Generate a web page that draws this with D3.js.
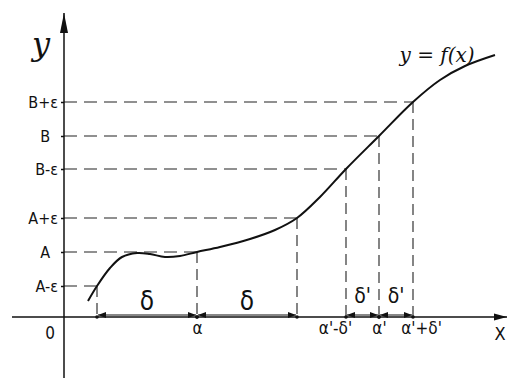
<!DOCTYPE html>
<html>
<head>
<meta charset="UTF-8">
<script src="https://d3js.org/d3.v7.min.js"></script>
<style>
    body { margin: 0; background: #fff; }
    svg { display: block; }
    text { font-family: "DejaVu Sans Condensed", "Liberation Sans Narrow", sans-serif; fill: #111; }
</style>
</head>
<body>
<svg width="509" height="378"></svg>
<script>
// curve y = f(x)
const curveX = [24, 33, 46, 58, 73, 86, 101, 116, 133, 156, 186, 211, 233, 256, 282, 315, 349, 376, 401, 431];
const curveY = [16, 31, 49, 60, 64, 63, 60, 61, 65, 70, 78, 87, 99, 120, 148, 181, 215, 237, 251, 262];

// levels on the y axis and where the curve meets them
const levelValues = [31, 65, 99, 148, 181, 215];
const levelLabels = ["A-ε", "A", "A+ε", "B-ε", "B", "B+ε"];
const levelHitX = [33, 133, 233, 282, 315, 349];

// x axis labels
const xTickValues = [133, 282, 315, 349];
const xTickLabels = ["α", "α'-δ'", "α'", "α'+δ'"];

// delta intervals
const spanStart = [33, 133, 282, 315];
const spanEnd = [133, 233, 315, 349];
const spanLabels = ["δ", "δ", "δ'", "δ'"];

const svg = d3.select("svg");
const x = d3.scaleLinear().domain([0, 440]).range([64, 504]);
const y = d3.scaleLinear().domain([0, 300]).range([317, 17]);
const ink = "#111";

// arrow heads
svg.append("defs").append("marker")
    .attr("id", "head")
    .attr("viewBox", "0 0 8 6")
    .attr("refX", 8).attr("refY", 3)
    .attr("markerWidth", 8).attr("markerHeight", 6)
    .attr("markerUnits", "userSpaceOnUse")
    .attr("orient", "auto-start-reverse")
    .append("path").attr("d", "M0,0L8,3L0,6Z").attr("fill", ink);

// dashed guides: across to the curve, then down to the x axis
levelValues.forEach((v, i) => {
    svg.append("line")
        .attr("x1", x(0)).attr("x2", x(levelHitX[i]))
        .attr("y1", y(v)).attr("y2", y(v))
        .attr("stroke", "#222").attr("stroke-width", 1.1).attr("stroke-dasharray", "13,7");
    svg.append("line")
        .attr("x1", x(levelHitX[i])).attr("x2", x(levelHitX[i]))
        .attr("y1", y(v)).attr("y2", y(0))
        .attr("stroke", "#222").attr("stroke-width", 1.1).attr("stroke-dasharray", "11,6");
});

// axes lines with arrows
svg.append("line")
    .attr("x1", x(0)).attr("x2", x(0))
    .attr("y1", 378).attr("y2", 13)
    .attr("stroke", ink).attr("stroke-width", 1.5);
svg.append("path")
    .attr("d", `M${x(0)},13L${x(0) - 4},33L${x(0) + 4},33Z`)
    .attr("fill", ink);
svg.append("line")
    .attr("x1", 12).attr("x2", 507)
    .attr("y1", y(0)).attr("y2", y(0))
    .attr("stroke", ink).attr("stroke-width", 1.5);
svg.append("path")
    .attr("d", `M507,${y(0)}L494,${y(0) - 3.5}L494,${y(0) + 3.5}Z`)
    .attr("fill", ink);

// y axis ticks + labels
const yAxis = svg.append("g")
    .attr("transform", `translate(${x(0)},0)`)
    .call(d3.axisLeft(y).tickValues(levelValues)
        .tickFormat((d, i) => levelLabels[i]).tickSize(3).tickPadding(3));
yAxis.select(".domain").remove();
yAxis.selectAll("line").attr("stroke", ink).attr("stroke-width", 1.5);
yAxis.selectAll("text").attr("font-size", 16).attr("font-family", null).attr("fill", ink)
    .attr("dx", (d, i) => levelLabels[i].length === 1 ? -8 : 0);

// x axis labels
const xAxis = svg.append("g")
    .attr("transform", `translate(0,${y(0)})`)
    .call(d3.axisBottom(x).tickValues(xTickValues)
        .tickFormat((d, i) => xTickLabels[i]).tickSize(0).tickPadding(5));
xAxis.select(".domain").remove();
xAxis.selectAll("text").attr("font-size", 17).attr("font-family", null).attr("fill", ink)
    .attr("dx", (d, i) => i === 1 ? -11 : i === 3 ? 8 : 0);

svg.append("text").attr("x", 50).attr("y", 339)
    .attr("text-anchor", "middle").attr("font-size", 17).text("0");
svg.append("text").attr("x", 500).attr("y", 340)
    .attr("text-anchor", "middle").attr("font-size", 18).text("X");
svg.append("text").attr("x", 41).attr("y", 55)
    .attr("text-anchor", "middle").attr("font-size", 32)
    .attr("font-style", "italic").style("font-family", "DejaVu Serif, serif").text("y");

// delta spans
spanStart.forEach((s, i) => {
    svg.append("line")
        .attr("x1", x(s) + 1).attr("x2", x(spanEnd[i]) - 1)
        .attr("y1", y(0) - 2).attr("y2", y(0) - 2)
        .attr("stroke", ink).attr("stroke-width", 1)
        .attr("marker-start", "url(#head)").attr("marker-end", "url(#head)");
    svg.append("circle").attr("cx", x(s)).attr("cy", y(0)).attr("r", 1.8).attr("fill", ink);
    svg.append("circle").attr("cx", x(spanEnd[i])).attr("cy", y(0)).attr("r", 1.8).attr("fill", ink);
    const big = spanLabels[i] === "δ";
    svg.append("text")
        .attr("x", (x(s) + x(spanEnd[i])) / 2)
        .attr("y", big ? y(0) - 7 : y(0) - 14)
        .attr("text-anchor", "middle")
        .attr("font-size", big ? 26 : 21)
        .text(spanLabels[i]);
});

// the curve
const pts = curveX.map((v, i) => [x(v), y(curveY[i])]);
svg.append("path")
    .attr("d", d3.line().curve(d3.curveCatmullRom)(pts))
    .attr("fill", "none").attr("stroke", ink).attr("stroke-width", 2);

svg.append("text").attr("x", 437).attr("y", 62)
    .attr("text-anchor", "middle").attr("font-size", 20)
    .attr("font-style", "italic").style("font-family", "DejaVu Serif, serif")
    .text("y = f(x)");
</script>
</body>
</html>
